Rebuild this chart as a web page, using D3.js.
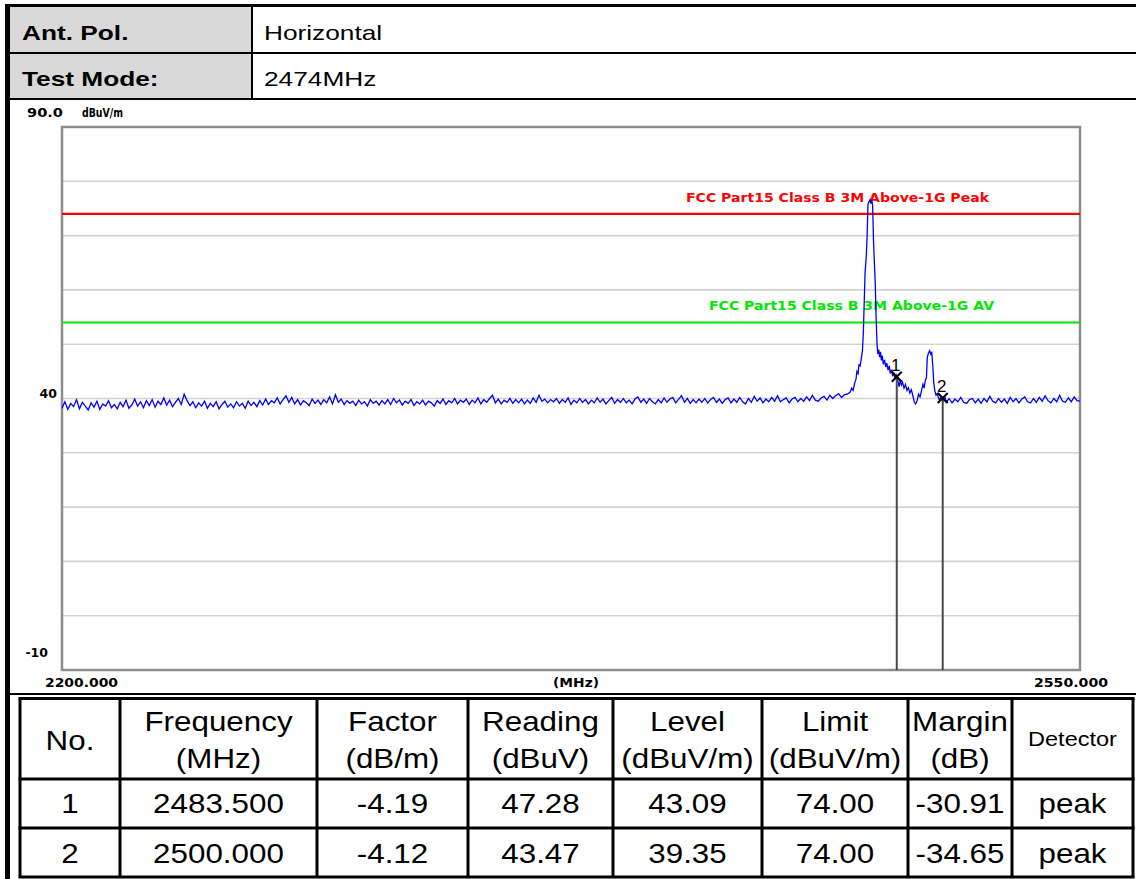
<!DOCTYPE html>
<html><head><meta charset="utf-8">
<script src="https://cdn.jsdelivr.net/npm/d3@7"></script>
<style>body{margin:0;background:#fff}svg{display:block}</style>
</head><body>
<script>
// ---------- DATA ----------
const headerLabels = ["Ant. Pol.", "Test Mode:"];
const headerValues = ["Horizontal", "2474MHz"];

const yUnit = "dBuV/m";
const yTopLabel = "90.0";
const yMidTick = 40;
const yBottomTick = -10;
const xTickLabels = ["2200.000", "(MHz)", "2550.000"];

const limitNames = ["FCC Part15 Class B 3M Above-1G Peak", "FCC Part15 Class B 3M Above-1G AV"];
const limitValues = [74, 54];
const limitColors = ["#ff0000", "#00e600"];

// noise floor, 1 MHz steps from 2200 to 2470
const floorLowStart = 2200;
const floorLow = [
38.2,39.4,38.0,39.1,38.5,39.8,38.1,39.3,38.6,37.9,
39.2,38.4,39.5,38.0,39.0,38.6,39.6,38.3,38.9,38.1,
39.3,38.5,39.7,38.2,38.8,39.9,38.6,39.4,38.3,39.6,
38.7,39.8,38.4,39.5,38.9,40.1,38.8,39.7,38.5,39.3,
40.0,38.9,40.8,39.6,38.7,39.4,38.3,39.2,38.6,39.5,
38.2,39.1,38.5,39.4,38.1,38.9,39.5,38.4,39.0,38.3,
39.4,38.6,39.1,38.2,39.5,38.7,39.3,38.5,39.6,38.8,
39.9,38.9,39.6,39.2,40.1,39.0,39.8,40.5,39.3,40.2,
39.0,39.8,38.8,39.6,39.2,38.7,39.9,39.1,39.7,38.9,
39.8,39.2,40.3,39.0,40.7,39.3,39.9,38.9,39.6,39.1,
39.5,38.7,39.7,39.0,39.4,38.6,39.8,39.1,39.5,38.8,
39.6,39.0,39.8,38.9,40.0,39.2,39.7,38.8,39.5,39.1,
39.8,38.7,39.4,39.0,39.7,38.8,39.5,39.2,38.6,39.6,
39.1,39.9,38.9,39.6,39.2,40.0,39.0,39.7,39.3,39.9,
38.9,39.7,39.2,40.1,39.0,39.8,39.3,40.0,40.6,39.2,
39.9,39.0,39.7,39.3,40.0,39.1,39.8,39.2,39.9,39.0,
39.7,39.1,40.1,39.3,40.6,39.5,39.9,39.2,39.8,39.4,
40.0,39.1,39.8,39.3,40.1,38.9,39.7,39.2,40.0,39.3,
39.8,39.0,39.7,39.2,40.1,39.3,39.9,39.0,39.6,40.2,
39.1,39.8,39.3,40.0,39.2,39.7,39.0,39.9,40.3,39.3,
39.9,39.1,40.0,39.4,39.0,39.8,39.2,40.1,39.3,39.9,
40.2,39.2,39.9,40.5,39.3,40.0,39.1,39.8,39.2,39.9,
39.3,40.0,39.2,39.8,40.2,39.3,39.9,39.1,39.8,40.1,
39.2,39.9,39.3,40.2,39.4,39.0,40.0,39.3,40.4,39.5,
40.1,39.2,39.9,39.4,40.2,39.5,40.5,39.4,39.8,40.1,
39.2,39.9,40.2,39.4,40.0,39.5,40.3,39.6,40.6,39.7,
39.5,40.1,40.4,39.7,40.6,40.0,40.5,40.9,40.2,40.7,
40.8
];

// carrier and band-edge region
const peakFreq = [
2471.0,2471.5,2472.0,2472.5,2473.0,2473.3,2473.7,2474.0,2474.4,2474.8,
2475.2,2475.5,2475.8,2476.1,2476.5,2476.8,2477.1,2477.5,2477.8,2478.1,
2478.4,2478.7,2479.0,2479.3,2479.6,2479.9,2480.2,2480.5,2480.8,2481.1,
2481.4,2481.7,2482.0,2482.4,2482.8,2483.2,2483.6,2484.0,2484.4,2484.8,
2485.2,2485.6,2486.0,2486.4,2486.8,2487.0,2487.4,2487.8,2488.2,2488.6,
2489.0,2489.5,2490.0,2490.5,2491.0,2491.5,2492.0,2492.5,2493.0,2493.5,
2494.0,2494.5,2495.0,2495.5,2496.0,2496.4,2496.8,2497.2,2497.5,2497.9,
2498.3,2498.7,2499.0,2499.4,2499.7,2500.1,2500.5,2500.9,2501.3,2501.7,
2502.1,2502.5,2502.8,2503.2,2503.6
];
const peakLevel = [
41.2,41.9,41.5,42.8,43.6,45.0,44.6,46.2,46.0,47.3,
48.8,52.0,57.5,63.1,66.0,69.7,75.8,76.3,76.6,75.9,
76.5,75.6,69.2,65.0,61.3,55.0,50.2,48.2,49.0,47.6,
48.6,47.0,47.9,46.3,47.1,45.8,46.5,45.2,46.0,44.6,
45.3,44.1,44.8,43.6,44.3,44.0,43.2,42.2,43.4,42.5,
43.0,41.9,42.6,41.5,42.0,41.0,41.6,40.6,39.4,39.0,
39.6,40.8,40.3,41.4,42.6,41.9,43.3,43.8,47.6,48.4,
48.8,48.2,48.6,46.0,43.0,41.4,40.6,40.9,40.2,39.7,
40.3,39.8,40.1,39.6,40.2
];

// noise floor, 1 MHz steps from 2504 to 2550
const floorHighStart = 2504;
const floorHigh = [
39.3,40.0,39.2,39.9,39.4,40.2,39.3,39.1,39.8,40.0,
39.2,39.9,39.1,40.0,39.4,40.4,39.5,39.2,40.0,39.3,
39.9,39.1,40.2,39.4,40.0,39.2,39.9,40.3,39.4,39.2,
40.0,39.3,40.2,39.5,40.5,39.6,39.2,40.0,39.4,40.6,
39.5,39.3,40.1,39.4,40.3,39.6,39.5
];

const markerNo = [1, 2];
const markerFreq = [2487.0, 2502.8];
const markerLevel = [44.0, 40.1];

const tableHead1 = ["No.", "Frequency", "Factor", "Reading", "Level", "Limit", "Margin", "Detector"];
const tableHead2 = ["", "(MHz)", "(dB/m)", "(dBuV)", "(dBuV/m)", "(dBuV/m)", "(dB)", ""];
const rowNo = ["1", "2"];
const rowFreq = ["2483.500", "2500.000"];
const rowFactor = ["-4.19", "-4.12"];
const rowReading = ["47.28", "43.47"];
const rowLevel = ["43.09", "39.35"];
const rowLimit = ["74.00", "74.00"];
const rowMargin = ["-30.91", "-34.65"];
const rowDetector = ["peak", "peak"];

// ---------- DRAW ----------
const W = 1136, H = 879;
const svg = d3.select("body").append("svg").attr("width", W).attr("height", H);

const SANS = "'Liberation Sans', Arial, sans-serif";
const BIT = "'DejaVu Sans', sans-serif";

function txt(s, x, y, o) {
  const t = svg.append("text")
    .attr("transform", `translate(${x},${y}) scale(${o.sx || 1},1)`)
    .attr("font-family", o.font || SANS)
    .attr("font-size", o.size || 12)
    .attr("font-weight", o.weight || "normal")
    .attr("text-anchor", o.anchor || "start")
    .attr("fill", o.fill || "#000")
    .text(s);
  if (o.len) t.attr("textLength", o.len).attr("lengthAdjust", "spacingAndGlyphs");
  return t;
}

// header table
const hdrRowY = [7, 54];
const hdrRowH = [45, 45];
hdrRowY.forEach((yy, i) => {
  svg.append("rect").attr("x", 10).attr("y", yy).attr("width", 241).attr("height", hdrRowH[i]).attr("fill", "#d9d9d9");
});
svg.append("rect").attr("x", 5).attr("y", 4).attr("width", W - 5).attr("height", 3).attr("fill", "#000");
svg.append("rect").attr("x", 5).attr("y", 4).attr("width", 5).attr("height", H - 4).attr("fill", "#000");
[53, 99].forEach(yy => svg.append("line").attr("x1", 10).attr("x2", W).attr("y1", yy).attr("y2", yy).attr("stroke", "#000").attr("stroke-width", 2));
svg.append("line").attr("x1", 252).attr("x2", 252).attr("y1", 7).attr("y2", 99).attr("stroke", "#000").attr("stroke-width", 2);
const hdrBase = [40, 86];
headerLabels.forEach((s, i) => txt(s, 22, hdrBase[i], {size: 21, weight: "bold", sx: 1.25}));
headerValues.forEach((s, i) => txt(s, 264, hdrBase[i], {size: 21, sx: 1.25}));

// chart
const x = d3.scaleLinear().domain([2200, 2550]).range([62, 1080]);
const y = d3.scaleLinear().domain([-10, 90]).range([670, 127]);

const grid = d3.range(80, -10, -10);
svg.append("g").selectAll("line").data(grid).join("line")
  .attr("x1", x(2200)).attr("x2", x(2550))
  .attr("y1", d => y(d)).attr("y2", d => y(d))
  .attr("stroke", "#d6d3ce").attr("stroke-width", 1.6);

svg.append("rect").attr("x", x(2200)).attr("y", y(90)).attr("width", x(2550) - x(2200)).attr("height", y(-10) - y(90))
  .attr("fill", "none").attr("stroke", "#8c8c8c").attr("stroke-width", 2.5);

// axis labels
txt(yTopLabel, 27, 117, {font: BIT, size: 12, weight: "bold", len: 36});
txt(yUnit, 82, 117, {font: BIT, size: 12, weight: "bold", len: 41});
txt(String(yMidTick), 57, y(yMidTick) - 0.5, {font: BIT, size: 12.5, weight: "bold", anchor: "end"});
txt(String(yBottomTick), 48, y(yBottomTick) - 13, {font: BIT, size: 12.5, weight: "bold", anchor: "end"});
txt(xTickLabels[0], 45, 687, {font: BIT, size: 12.5, weight: "bold", len: 73});
txt(xTickLabels[1], (x(2200) + x(2550)) / 2 - 18, 687, {font: BIT, size: 11.5, weight: "bold", len: 46});
txt(xTickLabels[2], 1034, 687, {font: BIT, size: 12.5, weight: "bold", len: 74});

// limit lines
limitValues.forEach((v, i) => {
  svg.append("line").attr("x1", x(2200)).attr("x2", x(2550)).attr("y1", y(v)).attr("y2", y(v))
    .attr("stroke", limitColors[i]).attr("stroke-width", 2.2);
});
const limitTextX = [686, 709];
const limitTextLen = [303, 285];
const limitTextDy = [-12, -12];
limitNames.forEach((s, i) => txt(s, limitTextX[i], y(limitValues[i]) + limitTextDy[i], {font: BIT, size: 13, weight: "bold", fill: limitColors[i], len: limitTextLen[i]}));

// trace
const trace = [];
floorLow.forEach((v, i) => trace.push([floorLowStart + i, v]));
peakFreq.forEach((f, i) => trace.push([f, peakLevel[i]]));
floorHigh.forEach((v, i) => trace.push([floorHighStart + i, v]));
svg.append("path").datum(trace)
  .attr("d", d3.line().x(d => x(d[0])).y(d => y(d[1])))
  .attr("fill", "none").attr("stroke", "#0000ff").attr("stroke-width", 1.3);

// markers
markerFreq.forEach((f, i) => {
  const mx = x(f), my = y(markerLevel[i]);
  svg.append("line").attr("x1", mx).attr("x2", mx).attr("y1", my).attr("y2", y(-10))
    .attr("stroke", "#4a4a4a").attr("stroke-width", 2);
  svg.append("path").attr("d", `M${mx - 5},${my - 5}L${mx + 5},${my + 5}M${mx - 5},${my + 5}L${mx + 5},${my - 5}`)
    .attr("stroke", "#000").attr("stroke-width", 2);
  txt(String(markerNo[i]), mx - 1, my - 6, {size: 17, anchor: "middle"});
});

// bottom table
svg.append("line").attr("x1", 10).attr("x2", W).attr("y1", 694).attr("y2", 694).attr("stroke", "#000").attr("stroke-width", 2);
const cols = [20, 120, 317, 468, 613, 762, 908, 1012, 1133];
const rows = [698.5, 779, 828, 877];
rows.forEach(r => svg.append("line").attr("x1", cols[0] - 1.5).attr("x2", cols[cols.length - 1] + 1.5).attr("y1", r).attr("y2", r).attr("stroke", "#000").attr("stroke-width", 3));
cols.forEach(c => svg.append("line").attr("x1", c).attr("x2", c).attr("y1", rows[0]).attr("y2", rows[rows.length - 1]).attr("stroke", "#000").attr("stroke-width", 3));
const mid = i => (cols[i] + cols[i + 1]) / 2;
tableHead1.forEach((s, i) => {
  if (tableHead2[i]) {
    txt(s, mid(i), 731, {size: 28, sx: 1.12, anchor: "middle"});
    txt(tableHead2[i], mid(i), 768, {size: 28, sx: 1.12, anchor: "middle"});
  } else if (s === "Detector") {
    txt(s, mid(i), 746, {size: 21, sx: 1.12, anchor: "middle"});
  } else {
    txt(s, mid(i), 750, {size: 28, sx: 1.12, anchor: "middle"});
  }
});
const rowBase = [813, 863];
const rowCols = [rowNo, rowFreq, rowFactor, rowReading, rowLevel, rowLimit, rowMargin, rowDetector];
rowBase.forEach((b, r) => {
  rowCols.forEach((arr, i) => txt(arr[r], mid(i), b, {size: 28, sx: 1.12, anchor: "middle"}));
});
</script>
</body></html>
